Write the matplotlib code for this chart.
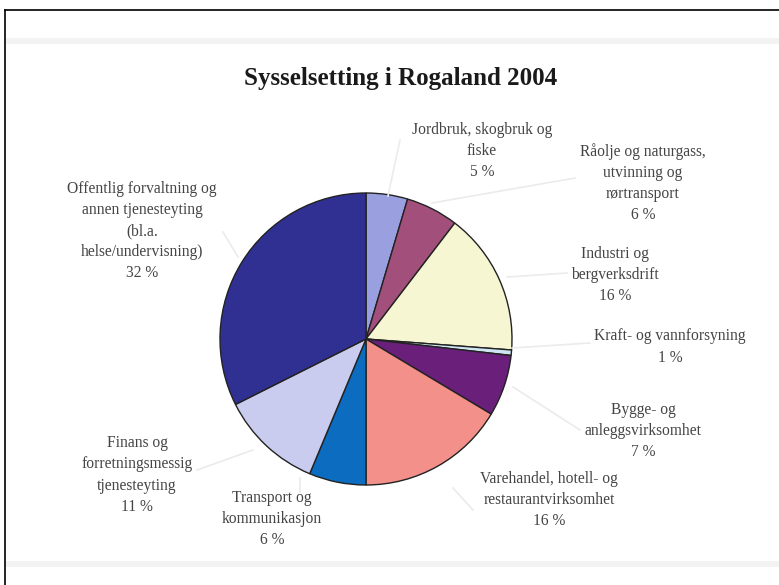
import matplotlib.pyplot as plt
from matplotlib.patches import Rectangle

# data
categories = [
    "Jordbruk, skogbruk og\nfiske",
    "Råolje og naturgass,\nutvinning og\nrørtransport",
    "Industri og\nbergverksdrift",
    "Kraft- og vannforsyning",
    "Bygge- og\nanleggsvirksomhet",
    "Varehandel, hotell- og\nrestaurantvirksomhet",
    "Transport og\nkommunikasjon",
    "Finans og\nforretningsmessig\ntjenesteyting",
    "Offentlig forvaltning og\nannen tjenesteyting\n(bl.a.\nhelse/undervisning)",
]
shares = [4.6, 5.8, 15.8, 0.6, 6.8, 16.4, 6.3, 11.3, 32.4]
pct_labels = ["5 %", "6 %", "16 %", "1 %", "7 %", "16 %", "6 %", "11 %", "32 %"]
colors = ["#9a9fdf", "#a24f7c", "#f7f6d2", "#cfe6f2", "#6a1f7a",
          "#f29089", "#0b6cc0", "#c9ccee", "#2f3091"]

W, H = 779, 585
fig = plt.figure(figsize=(W / 100, H / 100), dpi=100)
ax = fig.add_axes([0, 0, 1, 1])

def Y(y):
    return H - y

# frame and faint bands
ax.plot([5, 5], [Y(10), 0], color="black", lw=1.2)
ax.plot([5, W], [Y(10), Y(10)], color="black", lw=1.2)
ax.add_patch(Rectangle((6, Y(44)), W, 6, color="#f3f3f3", lw=0))
ax.add_patch(Rectangle((6, Y(567)), W, 6, color="#f3f3f3", lw=0))

ax.pie(shares, colors=colors, center=(366, Y(339)), radius=146,
       startangle=90, counterclock=False,
       wedgeprops=dict(edgecolor="#222222", linewidth=1.0), frame=True)
ax.set_xlim(0, W)
ax.set_ylim(0, H)
ax.set_aspect("equal")
ax.axis("off")

ax.text(401, Y(78), "Sysselsetting i Rogaland 2004", ha="center", va="center",
        fontsize=18, fontweight="bold", family="Liberation Serif", color="#1a1a1a")

# label centres (x, y of block centre) in pixel coords from top
label_pos = [(482, 151), (643, 183), (615, 275), (670, 347), (643, 431),
             (549, 500), (272, 519), (137, 475), (142, 231)]
for cat, pct, (x, y) in zip(categories, pct_labels, label_pos):
    ax.text(x, Y(y), cat + "\n" + pct, ha="center", va="center",
            fontsize=11.2, family="Liberation Serif", color="#444444",
            linespacing=1.42)

# faint leader lines
leaders = [
    [(388, 196), (400, 140)],
    [(432, 203), (575, 178)],
    [(507, 277), (567, 273)],
    [(512, 348), (590, 343)],
    [(513, 387), (580, 430)],
    [(453, 488), (473, 510)],
    [(300, 478), (300, 492)],
    [(197, 470), (253, 450)],
    [(223, 232), (238, 257)],
]
for seg in leaders:
    ax.plot([p[0] for p in seg], [Y(p[1]) for p in seg], color="#ebebeb", lw=1.2)

fig.savefig("out.png", dpi=100)
